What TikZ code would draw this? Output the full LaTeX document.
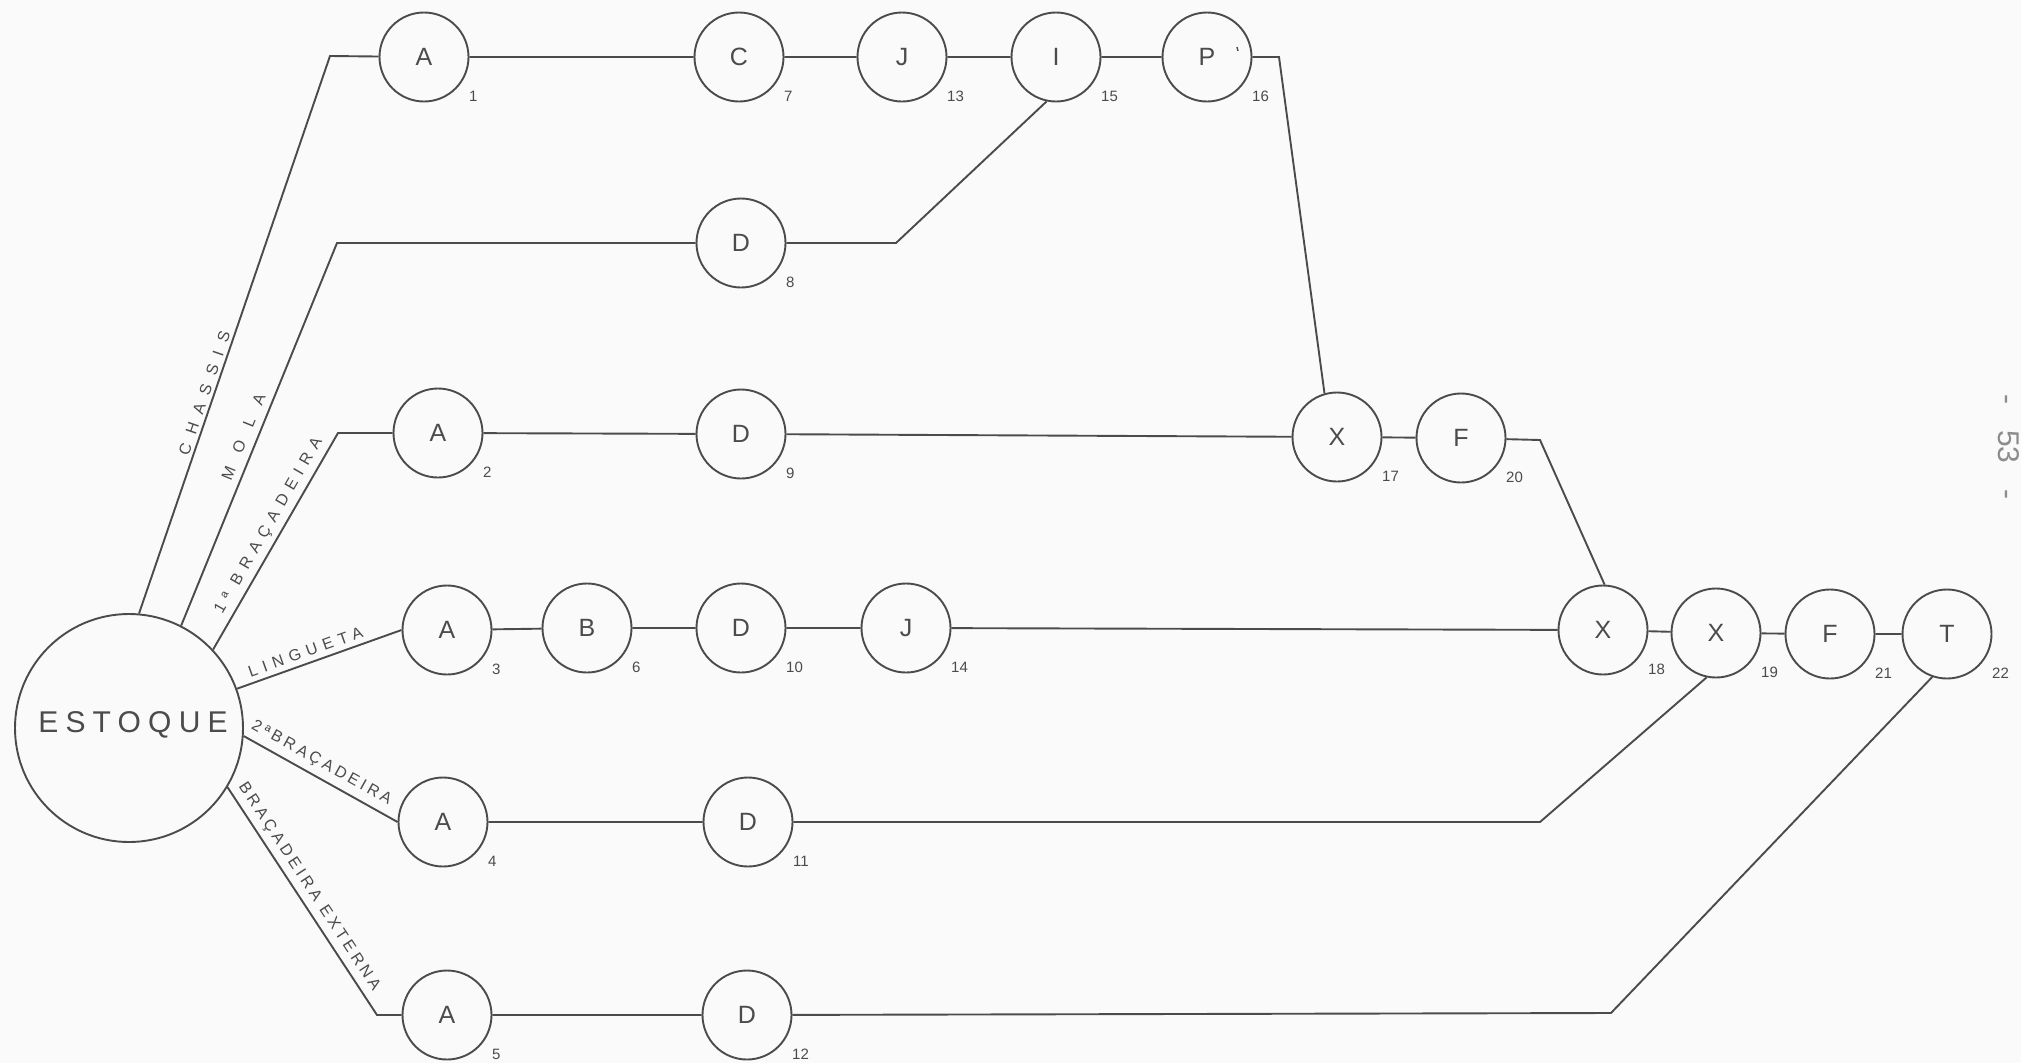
\documentclass[tikz,border=0pt]{standalone}
\usepackage{fontspec}
\setmainfont{Liberation Sans}

\definecolor{ink}{RGB}{75,75,75}
\definecolor{paper}{RGB}{250,250,250}
\definecolor{pageno}{RGB}{140,140,140}

% one operation: circle with its letter, and its sequence number below right
\newcommand\opnode[5]{%
  \node[op] (#1) at (#2,#3) {#4};
  \node[num] (#1n) at ([shift={(45,39)}]#1.center) {#5};}

\begin{document}
\begin{tikzpicture}[x=1pt,y=-1pt,
  wire/.style={draw=ink, line width=1.9pt},
  op/.style={circle, draw=ink, line width=1.9pt, minimum size=89pt, inner sep=0pt,
    text=ink, font=\fontsize{25}{25}\selectfont},
  num/.style={anchor=west, inner sep=0pt, text=ink, font=\fontsize{15}{15}\selectfont},
  tag/.style={inner sep=0pt, text=ink, sloped},
  tagfont/.style={font=\fontsize{16}{16}\selectfont\addfontfeatures{LetterSpace=#1}},
]
\fill[paper] (0,0) rectangle (2021,1063);
\useasboundingbox (0,0) rectangle (2021,1063);

% stock
\node[circle, draw=ink, line width=1.9pt, minimum size=228pt, inner sep=0pt, text=ink,
  font=\fontsize{30}{30}\selectfont\addfontfeatures{LetterSpace=24},
  text height=22pt, text depth=14pt] (est) at (129,728) {\hspace{8pt}ESTOQUE};

% operations
\opnode{A1}{424}{57}{A}{1}
\opnode{C7}{739}{57}{C}{7}
\opnode{J13}{902}{57}{J}{13}
\opnode{I15}{1056}{57}{I}{15}
\opnode{P16}{1207}{57}{P}{16}
\opnode{D8}{741}{243}{D}{8}
\opnode{A2}{438}{433}{A}{2}
\opnode{D9}{741}{434}{D}{9}
\opnode{X17}{1337}{437}{X}{17}
\opnode{F20}{1461}{438}{F}{20}
\opnode{A3}{447}{630}{A}{3}
\opnode{B6}{587}{628}{B}{6}
\opnode{D10}{741}{628}{D}{10}
\opnode{J14}{906}{628}{J}{14}
\opnode{X18}{1603}{630}{X}{18}
\opnode{X19}{1716}{633}{X}{19}
\opnode{F21}{1830}{634}{F}{21}
\opnode{T22}{1947}{634}{T}{22}
\opnode{A4}{443}{822}{A}{4}
\opnode{D11}{748}{822}{D}{11}
\opnode{A5}{447}{1015}{A}{5}
\opnode{D12}{747}{1015}{D}{12}

% small mark beside P
\draw[ink, line width=1.4pt] ([shift={(30,-10)}]P16.center) -- ++(1,4);

% bends of the flow lines
\coordinate (k1) at (330,56);
\coordinate (k2) at (1279,57);
\coordinate (k3) at (337,243);
\coordinate (k4) at (896,243);
\coordinate (k5) at (338,433);
\coordinate (k6) at (1540,440);
\coordinate (k7) at (1540,822);
\coordinate (k8) at (377,1015);
\coordinate (k9) at (1611,1013);

% chassis
\draw[wire] (est.85) -- node[tag, tagfont=62, pos=.39, above=3pt] {CHASSIS} (k1) -- (A1)
  -- (C7) -- (J13) -- (I15) -- (P16) -- (k2) -- (X17.106);
% spring
\draw[wire] (est.63) -- node[tag, tagfont=98, pos=.48, above=7pt] {MOLA} (k3) -- (D8)
  -- (k4) -- (I15.258);
% first clamp
\draw[wire] (est.43) -- node[tag, tagfont=44, pos=.54, above=5pt] {1ª BRAÇADEIRA} (k5) -- (A2)
  -- (D9) -- (X17) -- (F20) -- (k6) -- (X18.88);
% latch
\draw[wire] (est.20) -- node[tag, tagfont=37, pos=.44, above=5pt] {LINGUETA} (A3.west);
\draw[wire] (A3) -- (B6) -- (D10) -- (J14) -- (X18) -- (X19) -- (F21) -- (T22);
% second clamp
\draw[wire] (est.-4) -- node[tag, tagfont=22, pos=.46, above=6pt] {2ªBRAÇADEIRA} (A4.west);
\draw[wire] (A4) -- (D11) -- (k7) -- (X19.258);
% outer clamp
\draw[wire] (est.-31) -- node[tag, tagfont=24, pos=.47, above=5pt] {BRAÇADEIRA EXTERNA} (k8) -- (A5)
  -- (D12) -- (k9) -- (T22.251);

% page number
\node[rotate=-90, inner sep=0pt, text=pageno, font=\fontsize{30}{30}\selectfont] (pg)
  at (2009,447) {-\hspace{26pt}53\hspace{26pt}-};
\end{tikzpicture}
\end{document}
